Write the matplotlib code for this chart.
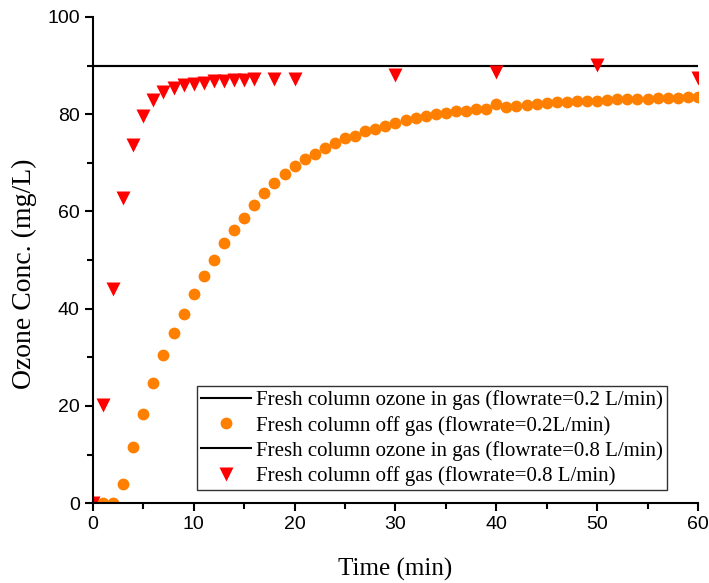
import matplotlib
matplotlib.use('Agg')
import matplotlib.pyplot as plt
from matplotlib.ticker import MultipleLocator

# off gas, flowrate 0.2 L/min (every minute)
t_02 = list(range(0, 61))
c_02 = [0, 0, 0, 4.0, 11.5, 18.4, 24.8, 30.4, 35.0, 39.0, 43.1,
        46.7, 50.0, 53.4, 56.1, 58.6, 61.3, 63.7, 65.9, 67.6, 69.3,
        70.7, 71.9, 73.1, 74.1, 75.0, 75.6, 76.5, 76.9, 77.6, 78.2,
        78.8, 79.2, 79.6, 80.0, 80.3, 80.6, 80.7, 81.0, 81.0, 82.0,
        81.4, 81.7, 81.8, 82.0, 82.2, 82.4, 82.6, 82.7, 82.7, 82.8,
        82.9, 83.1, 83.1, 83.2, 83.2, 83.3, 83.3, 83.3, 83.5, 83.5]

# off gas, flowrate 0.8 L/min
t_08 = [0, 1, 2, 3, 4, 5, 6, 7, 8, 9, 10, 11, 12, 13, 14, 15, 16, 18, 20, 30, 40, 50, 60]
c_08 = [0, 20.2, 44.0, 62.7, 73.7, 79.6, 83.0, 84.6, 85.3, 86.0, 86.2,
        86.5, 86.8, 86.9, 87.0, 87.0, 87.3, 87.2, 87.3, 88.0, 88.7, 90.1, 87.4]

# ozone in gas (inlet)
t_in = [0, 60]
c_in_02 = [90, 90]
c_in_08 = [90, 90]

plt.rcParams['font.family'] = ['Liberation Serif', 'DejaVu Serif']

fig = plt.figure(figsize=(7.09, 5.83), dpi=100)
ax = fig.add_axes([0.131, 0.137, 0.8535, 0.834])

ax.plot(t_in, c_in_02, color='black', lw=1.5,
        label='Fresh column ozone in gas (flowrate=0.2 L/min)')
ax.plot(t_02, c_02, 'o', color='#ff8000', ms=8.5, mec='none',
        label='Fresh column off gas (flowrate=0.2L/min)')
ax.plot(t_in, c_in_08, color='black', lw=1.5,
        label='Fresh column ozone in gas (flowrate=0.8 L/min)')
ax.plot(t_08, c_08, 'v', color='#ff0000', ms=9.5, mec='none',
        label='Fresh column off gas (flowrate=0.8 L/min)')

ax.set_xlim(0, 60)
ax.set_ylim(0, 100)
ax.xaxis.set_major_locator(MultipleLocator(10))
ax.xaxis.set_minor_locator(MultipleLocator(5))
ax.yaxis.set_major_locator(MultipleLocator(20))
ax.yaxis.set_minor_locator(MultipleLocator(10))

for s in ['top', 'right']:
    ax.spines[s].set_visible(False)
for s in ['left', 'bottom']:
    ax.spines[s].set_linewidth(1.5)

ax.tick_params(which='major', direction='out', length=6, width=1.5)
ax.tick_params(which='minor', direction='out', length=4, width=1.5)
for lab in ax.get_xticklabels() + ax.get_yticklabels():
    lab.set_family('Liberation Sans')
    lab.set_fontsize(14)

ax.set_xlabel('Time (min)', fontsize=18, labelpad=18)
ax.set_ylabel('Ozone Conc. (mg/L)', fontsize=20)
ax.yaxis.set_label_coords(-0.093, 0.471)

leg = ax.legend(loc='lower right', bbox_to_anchor=(0.949, 0.027), fontsize=15,
                frameon=True, fancybox=False, edgecolor='black',
                borderpad=0.2, labelspacing=0.25, handlelength=2.4,
                handletextpad=0.25, borderaxespad=0)
leg.get_frame().set_linewidth(1.0)

fig.savefig('out.png', dpi=100)
